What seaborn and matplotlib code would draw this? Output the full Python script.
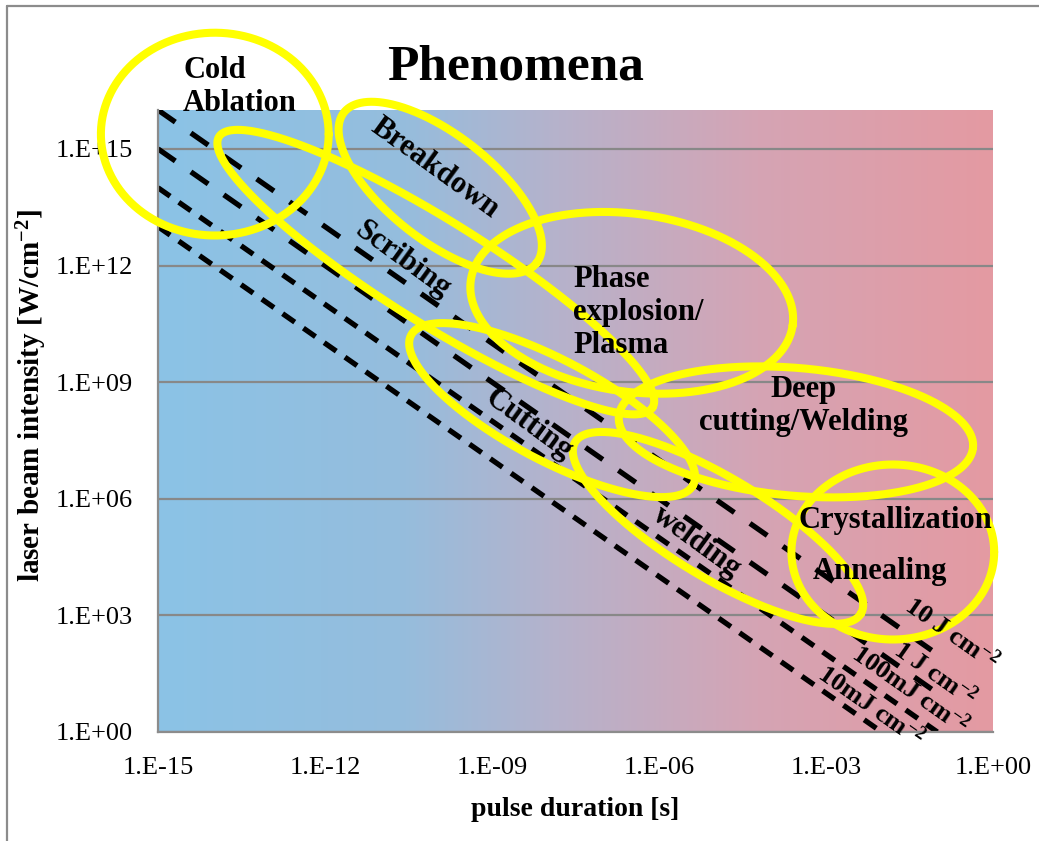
import numpy as np
import pandas as pd
import matplotlib
matplotlib.use("Agg")
import matplotlib.pyplot as plt
import seaborn as sns
from matplotlib.lines import Line2D
from matplotlib.colors import LinearSegmentedColormap

# ---------------- data ----------------
pulse_range = [1e-15, 1e-1]                  # pulse duration span of the fluence lines [s]
fluences = [10, 1, 0.1, 0.01]                 # J/cm^2
fluence_names = ["10 J", "1 J", "100mJ", "10mJ"]
fluence_labels = ["10 J cm$^{-2}$", "1 J cm$^{-2}$", "100mJ cm$^{-2}$", "10mJ cm$^{-2}$"]
fluence_label_t = [10**-0.74, 10**-1.04, 10**-1.48, 10**-2.19]
fluence_label_I = [10**2.52, 10**1.50, 10**1.10, 10**0.66]

x_ticks = [1e-15, 1e-12, 1e-9, 1e-6, 1e-3, 1e0]
x_ticklabels = ["1.E-15", "1.E-12", "1.E-09", "1.E-06", "1.E-03", "1.E+00"]
y_ticks = [1e0, 1e3, 1e6, 1e9, 1e12, 1e15]
y_ticklabels = ["1.E+00", "1.E+03", "1.E+06", "1.E+09", "1.E+12", "1.E+15"]

# phenomena regions (ellipses): centre (t, I), semi-axes [pt], angle [deg]
region_t = [10**-13.98, 10**-9.93, 10**-10.01, 10**-6.49, 10**-7.92, 10**-3.54, 10**-4.94, 10**-1.80]
region_I = [10**15.38, 10**14.00, 10**11.83, 10**11.04, 10**8.28, 10**7.72, 10**5.25, 10**4.63]
region_a = [82, 88, 184, 117, 115, 128, 120, 73]
region_b = [73, 38, 37, 64, 36, 46, 36, 63]
region_ang = [0, -38, -32, -8, -28, -5, -31, 0]

# phenomena labels
label_texts = ["Cold\nAblation", "Breakdown", "Scribing", "Phase\nexplosion/\nPlasma",
               "Deep\ncutting/Welding", "Cutting", "welding", "Crystallization", "Annealing"]
label_t = [10**-14.55, 10**-10.02, 10**-10.60, 10**-7.545, 10**-3.41, 10**-8.35, 10**-5.32,
           10**-1.76, 10**-2.03]
label_I = [10**16.60, 10**14.51, 10**12.14, 10**10.80, 10**8.39, 10**7.90, 10**4.89,
           10**5.45, 10**4.12]
label_rot = [0, -36, -36, 0, 0, -36, -36, 0, 0]
label_ha = ["left", "center", "center", "left", "center", "center", "center", "center", "center"]

# ---------------- style ----------------
sns.set_theme(style="white")
plt.rcParams["font.family"] = ["Liberation Serif", "DejaVu Serif"]
plt.rcParams["mathtext.default"] = "regular"
plt.rcParams["text.color"] = "black"
plt.rcParams["axes.labelcolor"] = "black"
plt.rcParams["xtick.color"] = "black"
plt.rcParams["ytick.color"] = "black"

W, H = 1039, 841
fig = plt.figure(figsize=(W / 100, H / 100), dpi=100)
pos = [158 / W, 1 - 732 / H, (993 - 158) / W, (732 - 110) / H]

# gradient background
bg = fig.add_axes(pos, zorder=0)
cmap = LinearSegmentedColormap.from_list(
    "bg", [(0.0, "#8BC3E6"), (0.29, "#95BDDD"), (0.48, "#B6B2CB"),
           (0.72, "#D5A4B4"), (1.0, "#E49AA2")])
bg.imshow(np.linspace(0, 1, 512)[None, :], cmap=cmap, aspect="auto", extent=[0, 1, 0, 1])
bg.set_axis_off()

ax = fig.add_axes(pos, zorder=1)
ax.set_facecolor("none")

# fluence lines I = F / t
rows = []
for name, F in zip(fluence_names, fluences):
    for t in pulse_range:
        rows.append({"t": t, "I": F / t, "fluence": name})
df = pd.DataFrame(rows)
dash_map = {"10 J": (4, 3.6), "1 J": (4, 3.6), "100mJ": (2.8, 2.0), "10mJ": (2.8, 2.0)}
sns.lineplot(data=df, x="t", y="I", hue="fluence", style="fluence",
             palette={n: "black" for n in fluence_names}, dashes=dash_map,
             linewidth=3.8, legend=False, ax=ax, zorder=2)

ax.set_xscale("log")
ax.set_yscale("log")
ax.set_xlim(1e-15, 1e0)
ax.set_ylim(1e0, 1e16)
ax.set_autoscale_on(False)
ax.set_xticks(x_ticks)
ax.set_xticklabels(x_ticklabels)
ax.set_yticks(y_ticks)
ax.set_yticklabels(y_ticklabels)
ax.minorticks_off()
ax.tick_params(axis="both", length=0, labelsize=19, colors="black")
ax.tick_params(axis="y", pad=18)
ax.tick_params(axis="x", pad=18)
ax.yaxis.grid(True, color="#888888", linewidth=1.6)
ax.xaxis.grid(False)
for s in ["top", "right"]:
    ax.spines[s].set_visible(False)
for s in ["left", "bottom"]:
    ax.spines[s].set_color("#8c8c8c")
    ax.spines[s].set_linewidth(1.6)

ax.set_xlabel("pulse duration [s]", fontsize=20, fontweight="bold", labelpad=13)
ax.set_ylabel("laser beam intensity [W/cm$^{-2}$]", fontsize=21, fontweight="bold")
ax.yaxis.set_label_coords((49 - 158) / 835, (732 - 396) / 622)

# ellipses
s = fig.dpi / 72.0
th = np.linspace(0, 2 * np.pi, 500)
for ct, ci, a, b, ang in zip(region_t, region_I, region_a, region_b, region_ang):
    cx, cy = ax.transData.transform((ct, ci))
    ca, sa = np.cos(np.radians(ang)), np.sin(np.radians(ang))
    ex, ey = a * s * np.cos(th), b * s * np.sin(th)
    X = cx + ex * ca - ey * sa
    Y = cy + ex * sa + ey * ca
    d = ax.transData.inverted().transform(np.column_stack([X, Y]))
    ax.plot(d[:, 0], d[:, 1], color="#FFFF00", lw=5.8, clip_on=False, zorder=3,
            solid_capstyle="round")

# phenomena labels
for txt, t, I, r, ha in zip(label_texts, label_t, label_I, label_rot, label_ha):
    ax.text(t, I, txt, rotation=r, ha=ha, va="center", fontsize=22, fontweight="bold",
            linespacing=1.18, rotation_mode="anchor", zorder=4, clip_on=False)

# fluence labels
for txt, t, I in zip(fluence_labels, fluence_label_t, fluence_label_I):
    ax.text(t, I, txt, rotation=-35, ha="center", va="center", fontsize=19,
            fontweight="bold", rotation_mode="anchor", zorder=4, clip_on=False)

# title
fig.text(515 / W, 1 - 80 / H, "Phenomena", ha="center", va="baseline",
         fontsize=37, fontweight="bold")

# outer frame
fig.add_artist(Line2D([7 / W, 7 / W], [1 - 6 / H, 0], color="#8c8c8c", lw=1.6))
fig.add_artist(Line2D([7 / W, 1], [1 - 6 / H, 1 - 6 / H], color="#8c8c8c", lw=1.6))

fig.savefig("out.png", dpi=100)
